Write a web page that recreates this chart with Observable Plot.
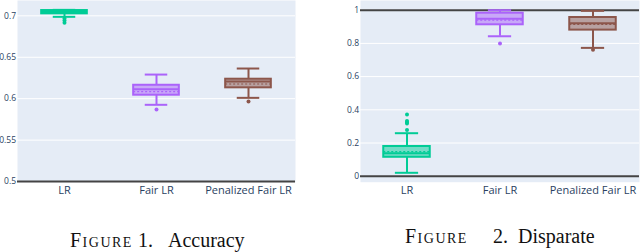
<!DOCTYPE html>
<html>
<head>
<meta charset="utf-8">
<script src="https://cdn.jsdelivr.net/npm/d3@7"></script>
<script src="https://cdn.jsdelivr.net/npm/@observablehq/plot@0.6"></script>
<style>
  html, body { margin: 0; padding: 0; background: #fff; width: 640px; height: 252px; overflow: hidden; position: relative; }
  .panel { position: absolute; top: 0; }
  .cap { position: absolute; font-family: "Liberation Serif", serif; font-size: 20px; line-height: 1; color: #111; white-space: nowrap; }
  .sc { font-variant: small-caps; letter-spacing: 1.5px; }
</style>
</head>
<body>
<div id="left" class="panel" style="left:0px"></div>
<div id="right" class="panel" style="left:320px"></div>
<div class="cap sc" style="left:70px; top:230px">Figure</div>
<div class="cap" style="left:138px; top:230px">1.</div>
<div class="cap" style="left:168px; top:230px">Accuracy</div>
<div class="cap sc" style="left:405px; top:226px">Figure</div>
<div class="cap" style="left:493px; top:226px">2.</div>
<div class="cap" style="left:518px; top:226px">Disparate</div>
<script>
// ---- data ----
const categories = ["LR", "Fair LR", "Penalized Fair LR"];
const colors = ["#00CC96", "#AB63FA", "#8C564B"];

// Figure 1: accuracy
const accLow  = [0.6988, 0.5926, 0.6010];
const accQ1   = [0.7024, 0.6042, 0.6131];
const accMed  = [0.7046, 0.6114, 0.6207];
const accMean = [0.7040, 0.6086, 0.6177];
const accQ3   = [0.7064, 0.6162, 0.6235];
const accHigh = [0.7072, 0.6291, 0.6364];
const accOutCat = ["LR", "LR", "LR", "Fair LR", "Penalized Fair LR"];
const accOutVal = [0.6967, 0.6943, 0.6916, 0.5869, 0.5966];
const accTicks = [0.5, 0.55, 0.6, 0.65, 0.7];

// Figure 2: disparate impact
const disLow  = [0.0205, 0.843, 0.773];
const disQ1   = [0.114, 0.912, 0.880];
const disMed  = [0.139, 0.948, 0.922];
const disMean = [0.148, 0.940, 0.915];
const disQ3   = [0.179, 0.982, 0.956];
const disHigh = [0.259, 1.000, 0.996];
const disOutCat = ["LR", "LR", "LR", "LR", "LR", "Fair LR", "Penalized Fair LR"];
const disOutVal = [0.372, 0.333, 0.325, 0.317, 0.279, 0.799, 0.761];
const disTicks = [0, 0.2, 0.4, 0.6, 0.8, 1];

function rowsOf(low, q1, med, mean, q3, high) {
  return categories.map((c, i) => ({cat: c, low: low[i], q1: q1[i], med: med[i], mean: mean[i], q3: q3[i], high: high[i]}));
}

function panel({rows, outCat, outVal, ticks, grid, dark, domain, width, ml, mr}) {
  const height = 200, mt = 0, mb = 18.3;
  const bw = (width - ml - mr) / categories.length;
  const boxInset = bw / 4, capInset = bw * 0.375;
  const outliers = outCat.map((c, i) => ({cat: c, v: outVal[i]}));
  return Plot.plot({
    width, height, marginLeft: ml, marginRight: mr, marginTop: mt, marginBottom: mb,
    style: {fontFamily: "'Open Sans', sans-serif", color: "#2a3f5f", background: "transparent", overflow: "visible"},
    x: {domain: categories, padding: 0, axis: null},
    y: {domain, axis: null},
    color: {domain: categories, range: colors},
    marks: [
      Plot.frame({fill: "#E5ECF6", stroke: null}),
      Plot.ruleY(grid, {stroke: "#ffffff", strokeWidth: 1}),
      Plot.ruleY(dark, {stroke: "#444444", strokeWidth: 2}),
      Plot.ruleX(rows, {x: "cat", y1: "q3", y2: "high", stroke: "cat", strokeWidth: 2}),
      Plot.ruleX(rows, {x: "cat", y1: "low", y2: "q1", stroke: "cat", strokeWidth: 2}),
      Plot.tickY(rows, {x: "cat", y: "high", stroke: "cat", strokeWidth: 2, insetLeft: capInset, insetRight: capInset}),
      Plot.tickY(rows, {x: "cat", y: "low", stroke: "cat", strokeWidth: 2, insetLeft: capInset, insetRight: capInset}),
      Plot.barY(rows, {x: "cat", y1: "q1", y2: "q3", fill: "cat", fillOpacity: 0.5, stroke: "cat", strokeWidth: 2, insetLeft: boxInset, insetRight: boxInset}),
      Plot.tickY(rows, {x: "cat", y: "med", stroke: "cat", strokeWidth: 2, insetLeft: boxInset, insetRight: boxInset}),
      Plot.tickY(rows, {x: "cat", y: "mean", stroke: "cat", strokeWidth: 1.2, strokeDasharray: "2,2", insetLeft: boxInset, insetRight: boxInset}),
      Plot.dot(outliers, {x: "cat", y: "v", fill: "cat", r: 2, stroke: null}),
      Plot.axisY(ticks, {tickSize: 0, tickPadding: 1.5, fontSize: 8.5, tickFormat: d => String(d), label: null}),
      Plot.axisX({tickSize: 0, tickPadding: 3.5, fontSize: 11, label: null})
    ]
  });
}

document.getElementById("left").appendChild(panel({
  rows: rowsOf(accLow, accQ1, accMed, accMean, accQ3, accHigh),
  outCat: accOutCat, outVal: accOutVal,
  ticks: accTicks, grid: [0.55, 0.6, 0.65, 0.7], dark: [0.5],
  domain: [0.4992, 0.7185], width: 320, ml: 17, mr: 25
}));
document.getElementById("right").appendChild(panel({
  rows: rowsOf(disLow, disQ1, disMed, disMean, disQ3, disHigh),
  outCat: disOutCat, outVal: disOutVal,
  ticks: disTicks, grid: [0.2, 0.4, 0.6, 0.8], dark: [0, 1],
  domain: [-0.0361, 1.0584], width: 320, ml: 40, mr: 1
}));
</script>
</body>
</html>
